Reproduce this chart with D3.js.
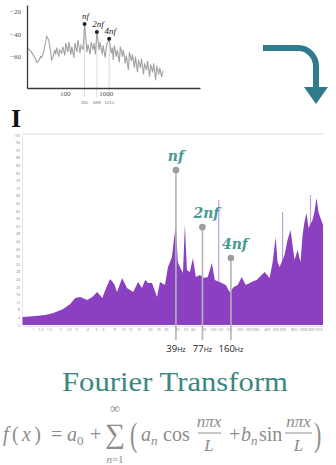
<!DOCTYPE html>
<html><head><meta charset="utf-8">
<script src="https://cdn.jsdelivr.net/npm/d3@7"></script>
<style>
html,body{margin:0;padding:0;background:#fff;}
svg{display:block;}
</style></head><body>
<svg id="chart" width="336" height="465"></svg>
<script>
// ---------- inset: log-frequency spectrum (dB) ----------
const smallHz = [12,13,15.5,19.4,20.5,23,25.7,27.2,30.5,34.2,36.2,40.5,45.4,48,50.8,
  57,60,64,71.5,75.6,84.8,89.7,100.5,106,119,126,141,149,167,177,198,210,235,249,279,305,
  350,370,415,439,491,520,560,609,691,731,820,868,971,1060,1215,1365,1450,1529,1616,1813,
  1916,2150,2272,2549,2694,3015,3190,3578,3786,4240,4487,5030,5324,5963,6311,7069,7489,
  8385,8870,9940,10500,11790,12460,13950,14770,16530,17510,19600,20770,23240,24630];
const smallDb = [-52,-53,-56,-62,-65,-64,-60,-61,-56,-47,-42,-45,-56,-63,-61,
  -54,-58,-52,-60,-54,-57,-51,-59,-48,-56,-47,-58,-51,-61,-48,-56,-45,-57,-50,-54,-31,
  -56,-49,-58,-47,-54,-48,-58,-38,-54,-47,-58,-50,-61,-49,-44,-57,-52,-63,-50,-60,
  -54,-65,-51,-60,-54,-66,-59,-72,-56,-64,-58,-70,-60,-74,-63,-70,-62,
  -76,-66,-72,-64,-78,-67,-74,-66,-81,-68,-76,-70,-78,-73];
const smallPeakHz = [305, 609, 1215];
const smallPeakDb = [-31, -38, -44];
const smallYTicks = [-20, -40, -60];
const smallXTicks = [100, 1000];
const harmonicNames = ["nf", "2nf", "4nf"];

// ---------- main spectrum ----------
const mainHz = [0.76,1.06,1.37,1.68,2.16,2.59,2.94,3.35,4.0,4.55,5.17,5.88,6.5,7.2,8.0,8.6,
  9.8,11.1,13.0,14.8,16.3,17.7,19.1,21.1,24.0,25.9,29.4,31.8,35.2,37.0,39,41.0,43.2,46.7,
  49.1,51.7,55.8,60.3,65,72,79.8,88.4,98,105.8,126.6,140,155,172,190.5,211,234,259,287,310,
  343,380,432,467,504,530,558,634,684,739,778,819,885,955,1006,1057,1114,1172,1298,1366,
  1438,1514,1593,1700];
const mainLevel = [4.2,4.7,5.3,6.3,8.4,11,14.2,14.7,13.2,14.7,17.4,14.2,19.5,24.2,21.6,17.4,
  24.7,19.5,17.4,22.6,19.5,23.7,22.1,22.1,14.7,22.6,21,30.5,35.8,44.7,52.6,33,30.5,27.4,
  53,29,27.9,35.3,25.3,26.3,24.7,25.3,32.6,23.7,22.1,21,17.4,20,21,25.3,21,22.1,23.2,23.7,
  25.8,27.9,24.7,33,46.3,33,30.5,36.8,44.7,50,42,34.2,39.5,33,47.4,54.2,59,51,55.3,59.5,
  66.8,59.5,56.3,52.6];
// narrow pale spikes
const thinHz = [117, 603, 1233];
const thinLevel = [65.8, 59.5, 68.4];
// marked harmonics
const peakHz = [39, 77, 160];
const peakLevel = [81.5, 51.5, 35.3];
const mainYTicks = d3.range(0, 101, 4);
const mainXTicks = [1,1.2,1.5,2,2.5,3,4,5,6,8,10,12,15,20,25,30,40,50,60,80,100,120,150,
  200,250,300,400,500,600,800,1000,1200,1500];

const svg = d3.select("#chart");
const TEAL = "#3a8780";

// ===== inset chart =====
const xS = d3.scaleLog().domain([12, 200000]).range([27, 200]);
const yS = d3.scaleLinear().domain([-88, -14]).range([88, 5]);
const inset = svg.append("g");

inset.selectAll("line.guide").data(smallPeakHz).join("line")
  .attr("class", "guide")
  .attr("x1", d => xS(d)).attr("x2", d => xS(d))
  .attr("y1", (d, i) => yS(smallPeakDb[i])).attr("y2", yS(-96))
  .attr("stroke", "#d2d2d2").attr("stroke-width", 0.8);

inset.append("path")
  .datum(d3.zip(smallHz, smallDb))
  .attr("d", d3.line().x(d => xS(d[0])).y(d => yS(d[1])))
  .attr("fill", "none").attr("stroke", "#a2a2a2").attr("stroke-width", 1.1);

const yAxS = inset.append("g").attr("transform", `translate(${xS.range()[0]},0)`)
  .call(d3.axisLeft(yS).tickValues(smallYTicks).tickSize(0).tickSizeOuter(0).tickPadding(6));
const xAxS = inset.append("g").attr("transform", `translate(0,${yS.range()[0]})`)
  .call(d3.axisBottom(xS).tickValues(smallXTicks).tickSize(0).tickSizeOuter(0).tickPadding(3)
    .tickFormat(d3.format("d")));
[yAxS, xAxS].forEach(g => {
  g.select(".domain").attr("stroke", "#3a3a3a").attr("stroke-width", 1.3);
  g.selectAll("text").attr("font-family", "Liberation Serif, serif").attr("font-size", 7)
    .attr("fill", "#555");
});

inset.selectAll("text.sub").data(smallPeakHz).join("text")
  .attr("class", "sub")
  .attr("x", d => xS(d)).attr("y", 104)
  .attr("text-anchor", "middle").attr("font-family", "Liberation Serif, serif")
  .attr("font-size", 5).attr("fill", "#666").text(d => d);

inset.selectAll("circle").data(smallPeakHz).join("circle")
  .attr("cx", d => xS(d)).attr("cy", (d, i) => yS(smallPeakDb[i]))
  .attr("r", 2).attr("fill", "#222");
inset.selectAll("text.hn").data(harmonicNames).join("text")
  .attr("class", "hn")
  .attr("x", (d, i) => xS(smallPeakHz[i]) + 1).attr("y", (d, i) => yS(smallPeakDb[i]) - 5)
  .attr("text-anchor", "middle").attr("font-family", "Liberation Serif, serif")
  .attr("font-style", "italic").attr("font-size", 9).attr("fill", "#222").text(d => d);

// ===== curved arrow =====
const ap = d3.path();
ap.moveTo(263, 48); ap.lineTo(298, 48); ap.arcTo(316, 48, 316, 66, 18); ap.lineTo(316, 89);
svg.append("path").attr("d", ap.toString()).attr("fill", "none")
  .attr("stroke", "#2f7b8b").attr("stroke-width", 6);
svg.append("path").attr("d", "M304,87L328,87L316,104Z").attr("fill", "#2f7b8b");

// text cursor glyph
svg.append("text").attr("x", 16).attr("y", 127).attr("text-anchor", "middle")
  .attr("font-family", "Liberation Serif, serif").attr("font-weight", "bold")
  .attr("font-size", 26).attr("fill", "#111").text("I");

// ===== main spectrum =====
const xM = d3.scaleLog().domain([0.75, 1700]).range([22, 323]);
const yM = d3.scaleLinear().domain([0, 100]).range([325, 135]);
const main = svg.append("g");

main.append("line").attr("x1", xM.range()[0]).attr("x2", xM.range()[1])
  .attr("y1", yM(100) - 1).attr("y2", yM(100) - 1)
  .attr("stroke", "#e0e0e0").attr("stroke-width", 1);

const yAxM = main.append("g").attr("transform", `translate(${xM.range()[0]},0)`)
  .call(d3.axisLeft(yM).tickValues(mainYTicks).tickSize(0).tickSizeOuter(0).tickPadding(2));
const xAxM = main.append("g").attr("transform", `translate(0,${yM(0) + 1})`)
  .call(d3.axisBottom(xM).tickValues(mainXTicks).tickSize(0).tickSizeOuter(0).tickPadding(2)
    .tickFormat(d3.format("~g")));
[yAxM, xAxM].forEach(g => {
  g.select(".domain").attr("stroke", "#e4e4e4").attr("stroke-width", 1);
  g.selectAll("text").attr("font-family", "Open Sans, sans-serif").attr("font-size", 3.6)
    .attr("fill", "#8a8a8a");
});

main.selectAll("line.thin").data(thinHz).join("line")
  .attr("class", "thin")
  .attr("x1", d => xM(d)).attr("x2", d => xM(d))
  .attr("y1", yM(0)).attr("y2", (d, i) => yM(thinLevel[i]))
  .attr("stroke", "#c4a0e0").attr("stroke-width", 1.2);

main.append("path")
  .datum(d3.zip(mainHz, mainLevel))
  .attr("d", d3.area().x(d => xM(d[0])).y0(yM(0)).y1(d => yM(d[1])))
  .attr("fill", "#8b3fc1");

main.selectAll("line.marker").data(peakHz).join("line")
  .attr("class", "marker")
  .attr("x1", d => xM(d)).attr("x2", d => xM(d))
  .attr("y1", (d, i) => yM(peakLevel[i])).attr("y2", yM(0) + 15)
  .attr("stroke", "#b3b3b3").attr("stroke-width", 1.6);
main.selectAll("circle").data(peakHz).join("circle")
  .attr("cx", d => xM(d)).attr("cy", (d, i) => yM(peakLevel[i]))
  .attr("r", 3.3).attr("fill", "#9d9d9d");
main.selectAll("text.hn").data(harmonicNames).join("text")
  .attr("class", "hn")
  .attr("x", (d, i) => xM(peakHz[i]) + (i ? 4 : 0)).attr("y", (d, i) => yM(peakLevel[i]) - 9)
  .attr("text-anchor", "middle").attr("font-family", "DejaVu Serif, serif")
  .attr("font-style", "italic").attr("font-weight", "bold").attr("font-size", 14)
  .attr("fill", "#4a9995").text(d => d);

const hz = main.selectAll("text.hz").data(peakHz).join("text")
  .attr("class", "hz")
  .attr("x", d => xM(d)).attr("y", yM(0) + 27)
  .attr("text-anchor", "middle").attr("font-family", "Open Sans, sans-serif")
  .attr("fill", "#222");
hz.append("tspan").attr("font-size", 9.5).text(d => d);
hz.append("tspan").attr("font-size", 7).text("Hz");

// ===== title =====
svg.append("text").attr("x", 175).attr("y", 391).attr("text-anchor", "middle")
  .attr("font-family", "Liberation Serif, serif").attr("font-size", 27)
  .attr("fill", TEAL).attr("textLength", 226).attr("lengthAdjust", "spacingAndGlyphs")
  .text("Fourier Transform");

// ===== Fourier series formula =====
const INK = "#8c8c8c";
const F = svg.append("g").attr("fill", INK).attr("font-family", "Liberation Serif, DejaVu Serif, serif");
function t(x, y, size, str, italic, anchor) {
  return F.append("text").attr("x", x).attr("y", y).attr("font-size", size)
    .attr("font-style", italic ? "italic" : "normal")
    .attr("text-anchor", anchor || "start").text(str);
}
const base = 441;
const fx = F.append("text").attr("x", 3).attr("y", base).attr("font-size", 20)
  .attr("textLength", 38).attr("lengthAdjust", "spacing");
fx.append("tspan").attr("font-style", "italic").text("f");
fx.append("tspan").text("(");
fx.append("tspan").attr("font-style", "italic").text("x");
fx.append("tspan").text(")");
t(51, base, 20, "=");
t(67, base, 20, "a", true); t(77, base + 4, 13, "0");
t(90, base, 20, "+");
t(115, base + 2, 28, "∑", false, "middle");
t(115, 413, 14, "∞", false, "middle");
const lim = F.append("text").attr("x", 115).attr("y", 463).attr("font-size", 11).attr("text-anchor", "middle");
lim.append("tspan").attr("font-style", "italic").text("n");
lim.append("tspan").text("=1");
// tall opening/closing brackets, stretched vertically
F.append("text").attr("transform", `translate(130,${base + 5}) scale(1,1.5)`)
  .attr("font-size", 22).text("(");
t(141, base, 20, "a", true); t(151, base + 4, 13, "n", true);
t(163, base, 20, "cos");
function frac(cx, x1, x2) {
  t(cx, 427, 17, "nπx", true, "middle");
  F.append("line").attr("x1", x1).attr("x2", x2).attr("y1", 433).attr("y2", 433)
    .attr("stroke", INK).attr("stroke-width", 1);
  t(cx, 451, 17, "L", true, "middle");
}
frac(209, 198, 221);
t(229, base, 20, "+");
t(241, base, 20, "b", true); t(251, base + 4, 13, "n", true);
t(259, base, 20, "sin");
frac(298.5, 285, 312);
F.append("text").attr("transform", `translate(314,${base + 5}) scale(1,1.5)`)
  .attr("font-size", 22).text(")");
</script>
</body></html>
